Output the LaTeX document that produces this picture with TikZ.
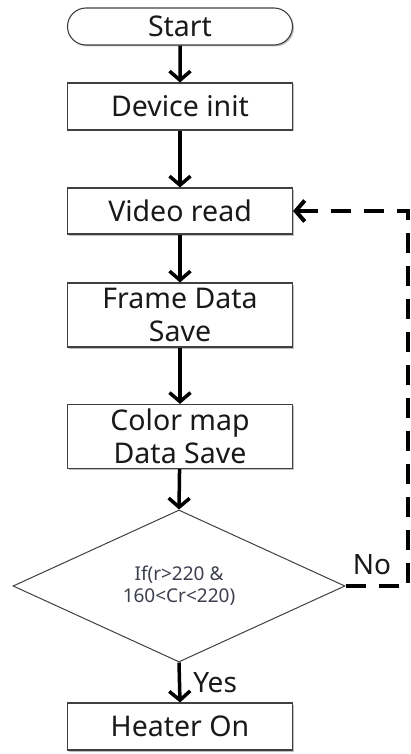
\documentclass[tikz,border=0pt]{standalone}
\usepackage{fontspec}
\setmainfont{Noto Sans}
\usetikzlibrary{arrows.meta,shapes.geometric,shapes.misc,shadows}
\definecolor{diatext}{HTML}{3C3F4E}
\begin{document}
\begin{tikzpicture}[x=1pt,y=-1pt,
  box/.style={draw=black!75, line width=1.1pt, fill=white, rectangle,
    minimum width=225pt, inner sep=0pt, align=center,
    font=\fontsize{28.5}{33}\selectfont, text=black!90,
    drop shadow={shadow xshift=1.5pt,shadow yshift=-1.5pt,fill=black,opacity=0.25}},
  dia/.style={draw=black!75, line width=1pt, fill=white, diamond,
    minimum width=332pt, minimum height=122pt, inner sep=0pt, align=center,
    font=\fontsize{19}{22}\selectfont, text=diatext},
  lbl/.style={font=\fontsize{28}{33}\selectfont, text=black!90, inner sep=0pt},
  flow/.style={line width=3.5pt, -{Straight Barb[length=9pt,width=21pt]}},
  back/.style={line width=4pt, dash pattern=on 20pt off 13pt, line join=miter,
    -{Straight Barb[length=9pt,width=21pt]}}
]
\useasboundingbox (0,0) rectangle (411,754);
\fill[white] (0,0) rectangle (411,754);
\node[box, rounded rectangle, minimum height=37pt] (start) at (180,26.5) {Start};
\node[box, minimum height=47pt] (dev) at (180,106.5) {Device init};
\node[box, minimum height=46pt] (video) at (180,211) {Video read};
\node[box, minimum height=64pt] (frame) at (180,315) {Frame Data\\Save};
\node[box, minimum height=64pt] (color) at (180,436.5) {Color map\\Data Save};
\node[dia] (dec) at (179,586) {If(r>220 \&\\160<Cr<220)};
\node[box, minimum height=47pt] (heater) at (180,726.5) {Heater On};
\coordinate (bend) at (408,586);
\draw[flow] (start) -- (dev);
\draw[flow] (dev) -- (video);
\draw[flow] (video) -- (frame);
\draw[flow] (frame) -- (color);
\draw[flow] (color) -- (dec.north);
\draw[flow] (dec.south) -- node[lbl, anchor=west, xshift=12pt] (yes) {Yes} (heater.north);
\draw[back] (dec.east) -- (bend) |- (video.east);
\node[lbl, anchor=base] (no) at (372,574) {No};
\end{tikzpicture}
\end{document}
